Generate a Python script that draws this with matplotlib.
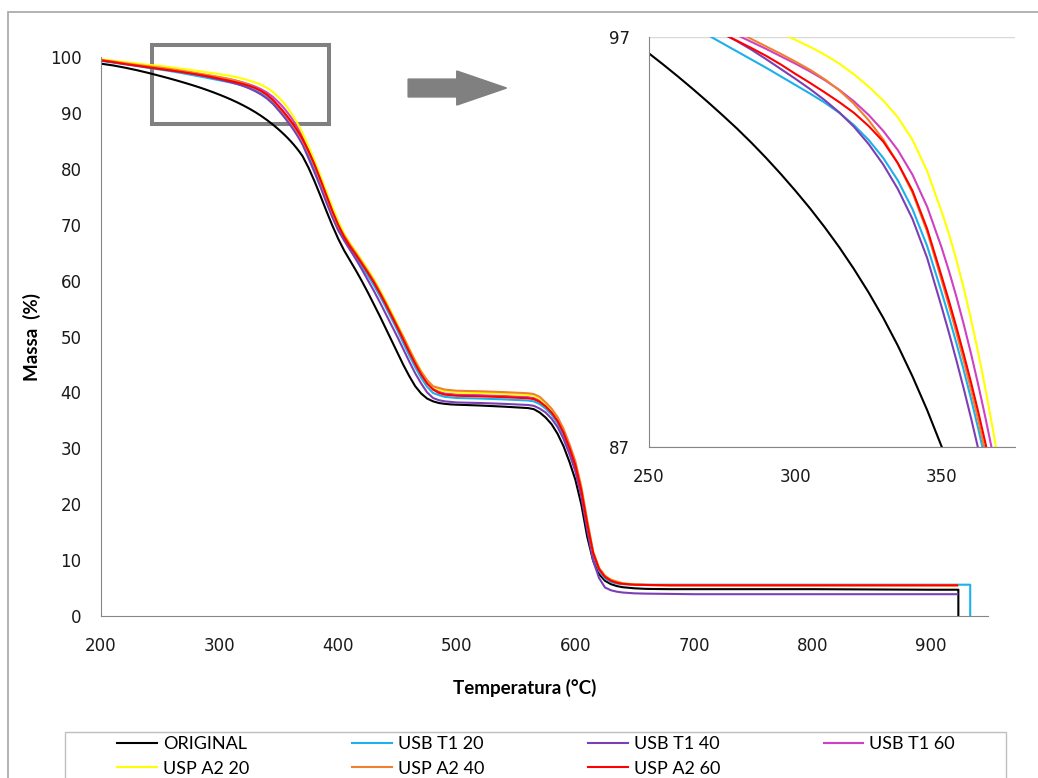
import numpy as np
import matplotlib.pyplot as plt
from matplotlib.patches import Rectangle, FancyArrow

# temperatura (°C) comum a todas as curvas
temperatura = [200, 210, 220, 230, 240, 250, 255, 260, 265, 270,
	275, 280, 285, 290, 295, 300, 305, 310, 315, 320,
	325, 330, 335, 340, 345, 350, 352.5, 355, 357.5, 360,
	362.5, 365, 367.5, 370, 375, 380, 385, 390, 395, 400,
	405, 410, 415, 420, 425, 430, 435, 440, 445, 450,
	455, 460, 465, 470, 475, 480, 485, 490, 495, 500,
	520, 540, 560, 565, 570, 575, 580, 585, 590, 595,
	600, 605, 610, 615, 620, 625, 630, 635, 640, 650,
	660, 680, 700, 750, 800, 850, 900, 922]

# massa (%)
original = [98.8, 98.5, 98.1, 97.65, 97.15, 96.6, 96.32, 96.03, 95.73, 95.42,
	95.10, 94.77, 94.42, 94.05, 93.66, 93.25, 92.82, 92.36, 91.87, 91.34,
	90.77, 90.15, 89.47, 88.72, 87.90, 87.00, 86.52, 86.02, 85.49, 84.93,
	84.33, 83.69, 83.00, 82.25, 80.2, 77.8, 75.2, 72.5, 69.9, 67.5,
	65.4, 63.6, 61.8, 59.9, 57.9, 55.8, 53.7, 51.5, 49.3, 47.1,
	44.9, 42.9, 41.1, 39.8, 38.9, 38.4, 38.1, 37.95, 37.85, 37.8,
	37.65, 37.45, 37.2, 37.0, 36.4, 35.5, 34.3, 32.6, 30.4, 27.6,
	24.4, 20.0, 14.2, 9.9, 7.5, 6.3, 5.7, 5.35, 5.15, 4.95,
	4.85, 4.8, 4.8, 4.8, 4.8, 4.75, 4.7, 4.7]
usb_t1_20 = [99.3, 99.0, 98.7, 98.4, 98.05, 97.75, 97.59, 97.42, 97.24, 97.05,
	96.85, 96.65, 96.45, 96.25, 96.04, 95.83, 95.62, 95.40, 95.15, 94.85,
	94.49, 94.05, 93.50, 92.80, 91.90, 90.76, 90.16, 89.53, 88.87, 88.17,
	87.43, 86.64, 85.79, 84.86, 82.4, 79.9, 77.2, 74.4, 71.6, 69.2,
	67.3, 65.6, 64.1, 62.5, 60.9, 59.2, 57.3, 55.3, 53.2, 51.1,
	48.8, 46.6, 44.5, 42.6, 41.0, 39.9, 39.5, 39.2, 39.1, 39.0,
	38.9, 38.75, 38.55, 38.4, 37.9, 37.1, 36.0, 34.5, 32.4, 29.7,
	26.6, 22.1, 16.1, 11.0, 8.1, 6.7, 6.1, 5.8, 5.7, 5.65,
	5.6, 5.6, 5.6, 5.6, 5.6, 5.6, 5.6, 5.6]
usb_t1_40 = [99.4, 99.1, 98.8, 98.5, 98.2, 97.9, 97.76, 97.61, 97.45, 97.28,
	97.10, 96.90, 96.69, 96.46, 96.22, 95.98, 95.73, 95.46, 95.16, 94.81,
	94.39, 93.89, 93.29, 92.56, 91.61, 90.40, 89.77, 89.11, 88.42, 87.70,
	86.94, 86.13, 85.26, 84.31, 81.9, 79.4, 76.8, 74.0, 71.4, 69.0,
	67.2, 65.5, 63.8, 62.0, 60.1, 58.2, 56.2, 54.1, 52.0, 49.9,
	47.7, 45.5, 43.4, 41.6, 40.0, 39.0, 38.6, 38.4, 38.3, 38.2,
	38.1, 37.95, 37.75, 37.6, 37.1, 36.4, 35.3, 33.8, 31.7, 29.0,
	25.9, 21.4, 15.4, 9.9, 6.8, 5.1, 4.6, 4.35, 4.2, 4.05,
	4.0, 3.95, 3.9, 3.9, 3.9, 3.9, 3.9, 3.9]
usb_t1_60 = [99.45, 99.15, 98.85, 98.55, 98.25, 98.0, 97.85, 97.70, 97.54, 97.38,
	97.22, 97.05, 96.88, 96.71, 96.53, 96.35, 96.16, 95.95, 95.71, 95.43,
	95.10, 94.71, 94.24, 93.64, 92.86, 91.85, 91.28, 90.66, 89.99, 89.27,
	88.50, 87.68, 86.81, 85.89, 83.4, 80.9, 78.2, 75.4, 72.6, 70.1,
	68.0, 66.3, 64.8, 63.2, 61.6, 59.9, 58.0, 56.0, 53.9, 51.8,
	49.6, 47.4, 45.3, 43.4, 41.8, 40.7, 40.1, 39.8, 39.7, 39.6,
	39.5, 39.35, 39.15, 39.0, 38.5, 37.6, 36.5, 35.0, 32.9, 30.2,
	27.1, 22.6, 16.6, 11.3, 8.4, 7.0, 6.3, 5.95, 5.75, 5.6,
	5.55, 5.5, 5.5, 5.5, 5.5, 5.5, 5.5, 5.5]
usp_a2_20 = [99.6, 99.35, 99.1, 98.85, 98.6, 98.4, 98.27, 98.13, 97.99, 97.85,
	97.70, 97.55, 97.40, 97.25, 97.09, 96.93, 96.76, 96.57, 96.35, 96.09,
	95.79, 95.45, 95.04, 94.49, 93.73, 92.73, 92.18, 91.56, 90.87, 90.11,
	89.28, 88.38, 87.41, 86.37, 84.0, 81.5, 78.8, 76.0, 73.2, 70.7,
	68.4, 66.7, 65.2, 63.6, 62.0, 60.3, 58.4, 56.4, 54.3, 52.2,
	50.0, 47.8, 45.7, 43.8, 42.1, 41.0, 40.5, 40.2, 40.1, 40.0,
	39.9, 39.75, 39.55, 39.4, 38.9, 37.9, 36.8, 35.3, 33.2, 30.5,
	27.4, 22.9, 16.9, 11.5, 8.6, 7.2, 6.5, 6.15, 5.85, 5.65,
	5.55, 5.5, 5.5, 5.5, 5.5, 5.5, 5.5, 5.5]
usp_a2_40 = [99.5, 99.2, 98.9, 98.6, 98.35, 98.1, 97.95, 97.80, 97.64, 97.48,
	97.31, 97.13, 96.95, 96.77, 96.59, 96.40, 96.20, 95.97, 95.70, 95.37,
	94.97, 94.50, 93.92, 93.20, 92.25, 91.05, 90.43, 89.78, 89.10, 88.39,
	87.64, 86.84, 85.98, 85.04, 83.0, 80.6, 77.9, 75.1, 72.3, 69.8,
	68.1, 66.4, 64.9, 63.3, 61.7, 60.0, 58.1, 56.1, 54.0, 51.9,
	49.9, 47.7, 45.6, 43.7, 42.2, 41.1, 40.8, 40.5, 40.4, 40.3,
	40.2, 40.05, 39.85, 39.7, 39.2, 38.2, 37.1, 35.6, 33.5, 30.8,
	27.7, 23.2, 17.2, 11.5, 8.6, 7.2, 6.5, 6.15, 5.85, 5.6,
	5.55, 5.5, 5.5, 5.5, 5.5, 5.5, 5.5, 5.5]
usp_a2_60 = [99.4, 99.1, 98.75, 98.45, 98.15, 97.85, 97.71, 97.56, 97.41, 97.25,
	97.08, 96.91, 96.73, 96.54, 96.33, 96.10, 95.88, 95.65, 95.41, 95.15,
	94.83, 94.45, 93.92, 93.25, 92.32, 91.15, 90.55, 89.92, 89.26, 88.57,
	87.84, 87.06, 86.22, 85.30, 83.2, 80.8, 78.1, 75.3, 72.5, 70.0,
	67.8, 66.1, 64.6, 63.0, 61.4, 59.7, 57.8, 55.8, 53.7, 51.6,
	49.4, 47.2, 45.1, 43.2, 41.6, 40.5, 39.9, 39.6, 39.5, 39.4,
	39.3, 39.15, 38.95, 38.8, 38.3, 37.5, 36.4, 34.9, 32.8, 30.1,
	27.0, 22.5, 16.5, 11.3, 8.4, 7.0, 6.3, 5.95, 5.75, 5.6,
	5.55, 5.5, 5.5, 5.5, 5.5, 5.5, 5.5, 5.5]

# fim do ensaio (queda vertical)
fim_t = {'ORIGINAL': [923, 923], 'USB T1 20': [933, 933]}
fim_m = {'ORIGINAL': [4.7, 0.0], 'USB T1 20': [5.6, 0.0]}

nomes = ['ORIGINAL', 'USB T1 20', 'USB T1 40', 'USB T1 60', 'USP A2 20', 'USP A2 40', 'USP A2 60']
massas = [original, usb_t1_20, usb_t1_40, usb_t1_60, usp_a2_20, usp_a2_40, usp_a2_60]
cores = ['#000000', '#1CB0EC', '#7B3FB5', '#D040C0', '#FFFF00', '#F08030', '#FF0000']

cinza = '#868686'
W, H = 1038, 778

fig = plt.figure(figsize=(W / 100, H / 100), dpi=100)

ax = fig.add_axes([101 / W, 1 - 616 / H, (988 - 101) / W, (616 - 57) / H])
ax_in = fig.add_axes([649 / W, 1 - 447 / H, (1015 - 649) / W, (447 - 37) / H])

linhas = []
for nome, massa, cor in zip(nomes, massas, cores):
	t = temperatura + fim_t.get(nome, [])
	m = massa + fim_m.get(nome, [])
	linha, = ax.plot(t, m, color=cor, lw=1.5, label=nome)
	ax_in.plot(t, m, color=cor, lw=1.5)
	linhas.append(linha)

# grafico principal
ax.set_xlim(200, 948)
ax.set_ylim(0, 100)
ax.set_xticks(np.arange(200, 901, 100))
ax.set_yticks(np.arange(0, 101, 10))
ax.tick_params(axis='both', length=0, labelsize=12, colors='#1a1a1a')
ax.tick_params(axis='y', pad=14)
ax.tick_params(axis='x', pad=15)
for lado in ['top', 'right']:
	ax.spines[lado].set_visible(False)
for lado in ['left', 'bottom']:
	ax.spines[lado].set_color(cinza)

# zoom
ax.add_patch(Rectangle((243.0, 88.0), 392.3 - 243.0, 102.15 - 88.0, fill=False,
	edgecolor='#808080', lw=2.9, clip_on=False))
ax.add_patch(FancyArrow(459, 94.45, 83, 0, width=3.2, head_width=6.1, head_length=42,
	length_includes_head=True, color='#808080', clip_on=False))

ax_in.set_xlim(250, 375)
ax_in.set_ylim(87, 97)
ax_in.set_xticks([250, 300, 350])
ax_in.set_yticks([87, 97])
ax_in.tick_params(axis='both', length=0, labelsize=12, colors='#1a1a1a')
ax_in.tick_params(axis='y', pad=14)
ax_in.tick_params(axis='x', pad=15)
ax_in.grid(axis='y', color='#D9D9D9', lw=1)
ax_in.set_axisbelow(True)
for lado in ['top', 'right']:
	ax_in.spines[lado].set_visible(False)
for lado in ['left', 'bottom']:
	ax_in.spines[lado].set_color(cinza)

fig.text(32 / W, 1 - 337 / H, 'Massa  (%)', rotation=90, ha='center', va='center',
	family='Lato', weight='bold', fontsize=13.5)
fig.text(525 / W, 1 - 688 / H, 'Temperatura (°C)', ha='center', va='center',
	family='Lato', weight='bold', fontsize=13.5)

# bordas
fig.add_artist(Rectangle((8 / W, -0.1), 1.5, 0.1 + (H - 12) / H, transform=fig.transFigure,
	fill=False, edgecolor='#A6A6A6', lw=1.2))
fig.add_artist(Rectangle((65 / W, -0.1), (1006 - 65) / W, 0.1 + (H - 732) / H,
	transform=fig.transFigure, fill=False, edgecolor='#BFBFBF', lw=1))

ordem = [0, 4, 1, 5, 2, 6, 3]
fig.legend([linhas[i] for i in ordem], [nomes[i] for i in ordem], ncol=4, loc='upper left',
	bbox_to_anchor=(117 / W, 1 - 736 / H, (955 - 117) / W, 0), mode='expand',
	frameon=False, borderpad=0, borderaxespad=0, handlelength=2.2, handletextpad=0.33,
	labelspacing=0.48, prop={'family': 'Lato', 'size': 13})

fig.savefig('out.png', dpi=100)
